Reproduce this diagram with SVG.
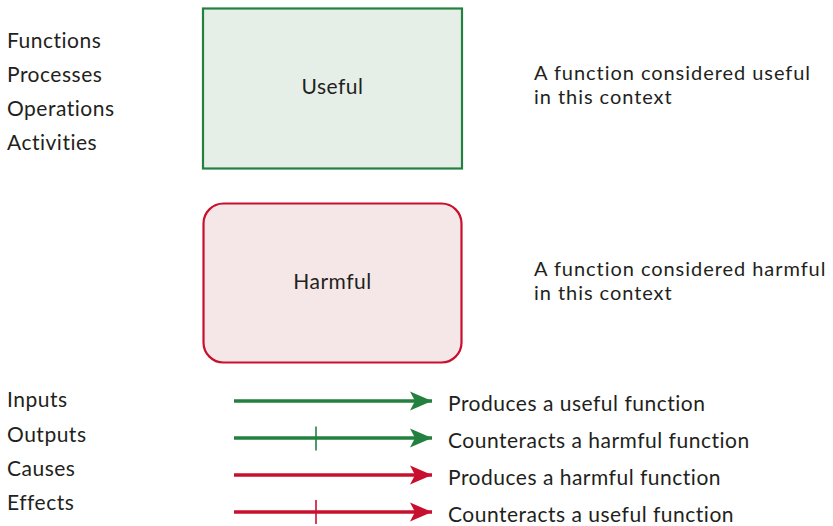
<svg xmlns="http://www.w3.org/2000/svg" width="833" height="526" viewBox="0 0 833 526">
  <style>
    .t { font-family: "Lato", "Open Sans", "Liberation Sans", sans-serif; font-size: 21px; letter-spacing: 0.5px; fill: #231f20; }
    .note { font-size: 20px; letter-spacing: 0.95px; }
    .mid { text-anchor: middle; }
    .g { stroke: #23803f; }
    .r { stroke: #c8102e; }
    .ln { stroke-width: 3.5; fill: none; }
    .tick { stroke-width: 1.6; }
  </style>
  <defs>
    <marker id="headG" markerUnits="userSpaceOnUse" viewBox="0 0 24 20" refX="22" refY="10" markerWidth="24" markerHeight="20" orient="auto">
      <path d="M22,10 L0,0.5 L5,10 L0,19.5 Z" fill="#23803f"/>
    </marker>
    <marker id="headR" markerUnits="userSpaceOnUse" viewBox="0 0 24 20" refX="22" refY="10" markerWidth="24" markerHeight="20" orient="auto">
      <path d="M22,10 L0,0.5 L5,10 L0,19.5 Z" fill="#c8102e"/>
    </marker>
  </defs>

  <!-- category lists -->
  <g id="kinds">
    <text class="t" x="7" y="48">Functions</text>
    <text class="t" x="7" y="82">Processes</text>
    <text class="t" x="7" y="116">Operations</text>
    <text class="t" x="7" y="150">Activities</text>
  </g>
  <g id="links-list">
    <text class="t" x="7" y="407">Inputs</text>
    <text class="t" x="7" y="442">Outputs</text>
    <text class="t" x="7" y="476">Causes</text>
    <text class="t" x="7" y="510">Effects</text>
  </g>

  <!-- function boxes -->
  <g id="useful">
    <rect x="203" y="8.5" width="259" height="160" fill="#e5efe8" stroke="#23803f" stroke-width="2.2"/>
    <text class="t mid" x="332.5" y="94">Useful</text>
  </g>
  <g id="harmful">
    <rect x="203.5" y="203.5" width="258" height="159" rx="20" ry="20" fill="#f5e7e8" stroke="#c8102e" stroke-width="2.2"/>
    <text class="t mid" x="332.5" y="289">Harmful</text>
  </g>

  <g id="useful-note">
    <text class="t note" x="534" y="80">A function considered useful</text>
    <text class="t note" x="534" y="104">in this context</text>
  </g>
  <g id="harmful-note">
    <text class="t note" x="534" y="276">A function considered harmful</text>
    <text class="t note" x="534" y="300">in this context</text>
  </g>

  <!-- legend connectors -->
  <g id="connectors">
    <line class="ln g" x1="234" y1="401" x2="432" y2="401" marker-end="url(#headG)"/>
    <line class="ln g" x1="234" y1="438" x2="432" y2="438" marker-end="url(#headG)"/>
    <line class="tick g" x1="316" y1="426.5" x2="316" y2="450.5"/>
    <line class="ln r" x1="234" y1="475" x2="432" y2="475" marker-end="url(#headR)"/>
    <line class="ln r" x1="234" y1="512" x2="432" y2="512" marker-end="url(#headR)"/>
    <line class="tick r" x1="316" y1="500" x2="316" y2="524"/>
  </g>

  <g id="legend-labels">
    <text class="t" x="448" y="411">Produces a useful function</text>
    <text class="t" x="448" y="448">Counteracts a harmful function</text>
    <text class="t" x="448" y="485">Produces a harmful function</text>
    <text class="t" x="448" y="522">Counteracts a useful function</text>
  </g>
</svg>
